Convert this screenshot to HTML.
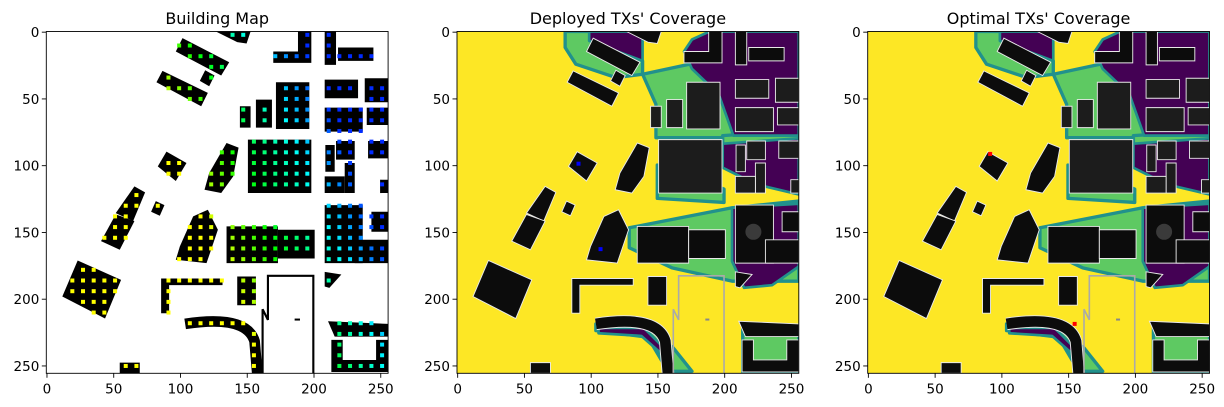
<!DOCTYPE html>
<html><head><meta charset="utf-8">
<style>
html,body{margin:0;padding:0;background:#fff;}
svg{display:block;font-family:"DejaVu Sans","Liberation Sans",sans-serif;}
</style></head>
<body>
<svg id="fig" width="1224" height="407" viewBox="0 0 1224 407" xmlns="http://www.w3.org/2000/svg"></svg>
<script>
// ---- data (map coordinates 0..256) ----
const panelTitles = ["Building Map", "Deployed TXs' Coverage", "Optimal TXs' Coverage"];
const tickValues = [0, 50, 100, 150, 200, 250];
const buildings = [
 [[127,0],[153,0],[150,9],[143,8]],
 [[102,5],[137,23],[131,33],[97,15]],
 [[119,29],[126,33],[122,41],[115,37]],
 [[87,29.5],[121,46],[116,56],[82.5,38]],
 [[188.5,0],[198.5,0],[198.5,23.5],[170,23.5],[170,15],[188.5,15]],
 [[208.5,0],[217,0],[217,25],[208.5,25]],
 [[218.5,12],[245,12],[245,22],[218.5,22]],
 [[172,38],[197,38],[197,73],[172,73]],
 [[157,51],[169,51],[169,72],[157,72]],
 [[145,56],[153,56],[153,72],[145,72]],
 [[208.5,36],[233.5,36],[233.5,50],[208.5,50]],
 [[238.5,35],[256,35],[256,53],[238.5,53]],
 [[208.5,57],[237,57],[237,75],[208.5,75]],
 [[240,57],[256,57],[256,70],[240,70]],
 [[151,81],[198.5,81],[198.5,121],[151,121]],
 [[209,85],[216,85],[216,105],[209,105]],
 [[217,82],[231,82],[231,96],[217,96]],
 [[223.5,98.5],[231,98.5],[231,121],[223.5,121]],
 [[208.5,108.5],[223.5,108.5],[223.5,121],[208.5,121]],
 [[241,82],[256,82],[256,95],[241,95]],
 [[250,111],[256,111],[256,121],[250,121]],
 [[135,83.5],[144,87],[140,108.5],[131,121],[118.5,118.5],[122,106]],
 [[90,90],[105,98.5],[97,112],[83.5,101]],
 [[66,116],[74,120.5],[65,142],[52,136]],
 [[52,137],[66,142],[55,163.5],[41,157]],
 [[82,127],[88.5,130],[85,138],[78.5,135]],
 [[121,133.5],[128.5,148.5],[120,173.5],[97,171],[100,161],[110,138.5]],
 [[135,146],[173.5,146],[173.5,173.5],[135,173.5]],
 [[173.5,148.5],[201,148.5],[201,170],[173.5,170]],
 [[208.5,130],[237,130],[237,173.5],[208.5,173.5]],
 [[243.5,135],[256,135],[256,150],[243.5,150]],
 [[231,156],[256,156],[256,173.5],[231,173.5]],
 [[23.5,171.5],[56,186],[44,215],[12,198.5]],
 [[86,185],[132,185],[132,190],[92,190],[92,211],[86,211]],
 [[143,183.5],[157,183.5],[157,205],[143,205]],
 [[55,248],[70,248],[70,256],[55,256]],
 [[208.5,180],[221,182],[212,192],[208.5,191]],
 [[211,217],[256,219],[256,228.5],[216,228.5]],
 [[213.5,231],[222,231],[222,246],[247,246],[247,231],[256,231],[256,255],[213.5,255]]
];
const curvedBuilding = "M104,219 Q150,212 156,232 L158,256";
const outlineLot = [[162,256],[162,208],[166,216],[166,183],[200,183],[200,256]];
const greenRegions = [
 [[81,0],[99,0],[139,22],[139,32],[119,34.5],[89,24.5],[81,12]],
 [[139,32],[174,24.5],[196,24.5],[211,52],[211,79.5],[149,79.5],[149,54.5]],
 [[199,78],[256,74],[256,90],[199,92]],
 [[129,147],[206,132],[256,127],[256,187],[206,187],[161,177],[129,162]],
 [[214,222],[256,222],[256,256],[214,256]],
 [[104,219],[139,219],[162,237],[176,254.5],[158,254.5],[143,229],[104,224]],
 [[150,100],[200,118],[200,128],[150,125]]
];
const purpleRegions = [
 [[189,0],[256,0],[256,78],[207,78],[196,47],[176,28],[170,15],[176,6]],
 [[99,0],[139,0],[139,22],[99,7]],
 [[199,84],[256,80],[256,122],[224,114.5],[199,102]],
 [[206,132],[256,129],[256,176],[236,190],[215,192],[206,172]],
 [[106,222],[140,222],[158,240],[154,242],[138,228],[106,226]]
];
const deployedTx = [[91,99],[107.5,163]];
const optimalTx = [[91.7,91.7],[155,219]];

// ---- layout ----
const NS = "http://www.w3.org/2000/svg";
const svg = document.getElementById('fig');
const panelLeft = [46.3, 457.0, 867.7];
const panelTop = 31.5, panelSize = 341.8, N = 256;
const sc = panelSize / N;
function mk(tag, attrs, parent){const e=document.createElementNS(NS,tag);for(const k in attrs)e.setAttribute(k,attrs[k]);parent.appendChild(e);return e;}
function pts(p){return p.map(q=>q.join(',')).join(' ');}
function dotColor(x,y){const s=x-0.4*y;const h=Math.max(60,Math.min(230,60+(s-60)*1.3));return `hsl(${h},100%,50%)`;}

panelTitles.forEach((title,pi)=>{
  const L = panelLeft[pi];
  const axes = mk('g',{},svg);
  
  
  const clipId='clip'+pi;
  const cp = mk('clipPath',{id:clipId},axes);
  mk('rect',{x:0,y:0,width:N,height:N},cp);
  const g = mk('g',{transform:`translate(${L},${panelTop}) scale(${sc})`,'clip-path':`url(#${clipId})`},axes);
  
  
  if(pi===0){
    mk('rect',{x:0,y:0,width:N,height:N,fill:'#fff'},g);
    const els=[];
    buildings.forEach(b=>{const e=mk('polygon',{points:pts(b),fill:'#000'},g);
      
      els.push(e);});
    const cb=mk('path',{d:curvedBuilding,fill:'none',stroke:'#000','stroke-width':8},g);
    
    
    mk('polyline',{points:pts(outlineLot),fill:'none',stroke:'#000','stroke-width':1.6},g);
    mk('rect',{x:186,y:215,width:4,height:1.5,fill:'#000'},g);
    for(let i=0;i<33;i++)for(let j=0;j<33;j++){
      const cx=8*i+3.5, cy=8*j+2.5;
      const p=svg.createSVGPoint();p.x=cx;p.y=cy;
      let inside=els.some(e=>e.isPointInFill(p));
      if(!inside&&cb.isPointInStroke&&cb.isPointInStroke(p))inside=true;
      if(inside){const d=mk('rect',{x:cx-1.5,y:cy-1.5,width:3,height:3,fill:dotColor(cx,cy)},g);
        
        }
    }
  } else {
    mk('rect',{x:0,y:0,width:N,height:N,fill:'#fde725'},g);
    greenRegions.forEach(r=>{const e=mk('polygon',{points:pts(r),fill:'#5ec962',stroke:'#21918c','stroke-width':2.5,'stroke-linejoin':'round'},g);
      
      });
    purpleRegions.forEach(r=>{const e=mk('polygon',{points:pts(r),fill:'#440154',stroke:'#21918c','stroke-width':2,'stroke-linejoin':'round'},g);
      
      });
    buildings.forEach((b,bi)=>{const e=mk('polygon',{points:pts(b),fill:(bi>=7&&bi<=20)?'#1c1c1c':'#0c0c0c',stroke:'#e8e8e8','stroke-width':0.7},g);
      
      });
    mk('path',{d:curvedBuilding,fill:'none',stroke:'#e8e8e8','stroke-width':9.4},g);
    const cb=mk('path',{d:curvedBuilding,fill:'none',stroke:'#0c0c0c','stroke-width':8},g);
    
    
    mk('polyline',{points:pts(outlineLot),fill:'none',stroke:'#aaa','stroke-width':1.2},g);
    mk('rect',{x:186,y:215,width:3,height:1.5,fill:'#888'},g);
    mk('circle',{cx:222,cy:150,r:6,fill:'#3a3a3a'},g);
    const tx = pi===1?deployedTx:optimalTx;
    tx.forEach(t=>{const m=mk('rect',{x:t[0]-1.5,y:t[1]-1.5,width:3,height:3,fill:pi===1?'#0000ff':'#ff0000'},g);
      
      });
  }
  mk('rect',{x:L,y:panelTop,width:panelSize,height:panelSize,fill:'none',stroke:'#000','stroke-width':0.9},axes);
  tickValues.forEach(v=>{
    const px=L+(v+0.5)*sc, py=panelTop+(v+0.5)*sc;
    mk('line',{x1:px,y1:panelTop+panelSize,x2:px,y2:panelTop+panelSize+4.5,stroke:'#000','stroke-width':0.9},axes);
    const tx=mk('text',{x:px,y:panelTop+panelSize+20,'font-size':13.5,'text-anchor':'middle',fill:'#000'},axes);
    tx.textContent=v;
    
    
    mk('line',{x1:L,y1:py,x2:L-4.5,y2:py,stroke:'#000','stroke-width':0.9},axes);
    const ty=mk('text',{x:L-7,y:py+5,'font-size':13.5,'text-anchor':'end',fill:'#000'},axes);
    ty.textContent=v;
    
    
  });
  const t=mk('text',{x:L+panelSize/2,y:24,'font-size':16,'text-anchor':'middle',fill:'#000'},axes);
  t.textContent=title;
  
  
});
</script>
</body></html>
